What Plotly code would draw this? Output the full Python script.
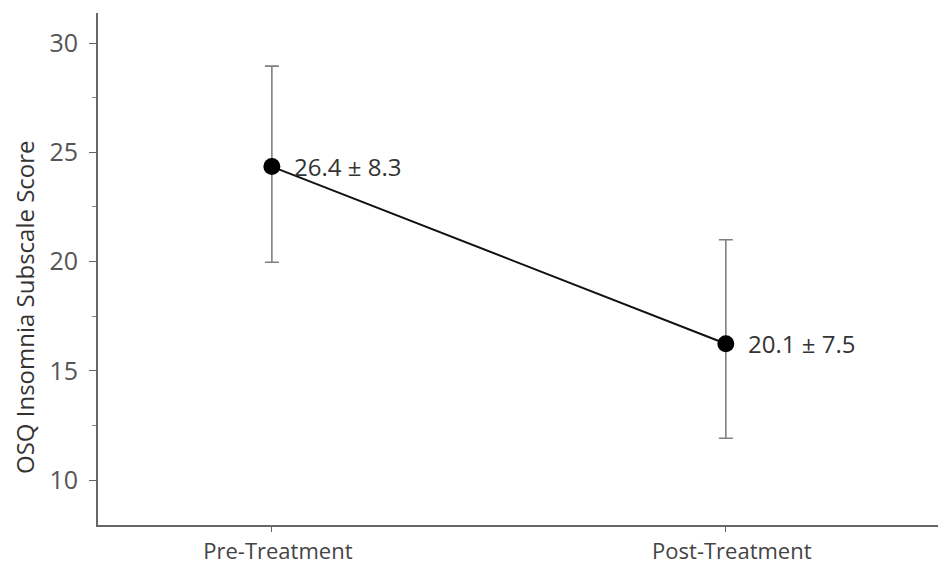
import plotly.graph_objects as go

categories = ["Pre-Treatment", "Post-Treatment"]
means = [24.35, 16.24]
err_plus = [4.6, 4.76]
err_minus = [4.38, 4.33]
labels = ["26.4 \u00b1 8.3", "20.1 \u00b1 7.5"]
y_ticks = [10, 15, 20, 25, 30]

FONT = "Open Sans"
W, H = 938, 558  # page body adds ~8px offset
fig = go.Figure()

fig.add_trace(go.Scatter(
    x=categories, y=means, mode="markers",
    marker=dict(size=1, color="rgba(0,0,0,0)"),
    error_y=dict(type="data", symmetric=False, array=err_plus, arrayminus=err_minus,
                 color="#808080", thickness=1.6, width=7),
    hoverinfo="skip", showlegend=False,
))
fig.add_trace(go.Scatter(
    x=categories, y=means, mode="lines+markers",
    line=dict(color="#111111", width=2),
    marker=dict(size=17, color="#000000"),
    showlegend=False,
))

annotations = [
    dict(x=c, y=m, xref="x", yref="y", text=t, showarrow=False,
         xanchor="left", yanchor="middle", xshift=20,
         font=dict(family=FONT, size=24, color="#333333"))
    for c, m, t in zip(categories, means, labels)
]
annotations.append(dict(
    text="OSQ Insomnia Subscale Score", textangle=-90,
    xref="paper", yref="paper", x=(24 - 98) / 848, y=(525 - 307) / 512,
    xanchor="center", yanchor="middle", showarrow=False,
    font=dict(family=FONT, size=24, color="#333333"),
))

fig.update_layout(
    width=W, height=H,
    margin=dict(l=90, r=0, t=5, b=H - 517, pad=0, autoexpand=False),
    paper_bgcolor="white", plot_bgcolor="white",
    font=dict(family=FONT, color="#444444"),
    xaxis=dict(
        type="category", range=[-0.383, 1.485], automargin=False,
        showline=True, linecolor="#666666", linewidth=2,
        ticks="outside", ticklen=5, tickcolor="#666666", tickwidth=1,
        ticklabelstandoff=1, ticklabelshift=6,
        tickfont=dict(family=FONT, size=22, color="#444444"),
        showgrid=False, zeroline=False,
    ),
    yaxis=dict(
        range=[7.94, 31.38], automargin=False,
        tickvals=y_ticks,
        showline=True, linecolor="#666666", linewidth=2,
        ticks="outside", ticklen=7, tickcolor="#666666", tickwidth=1,
        ticklabelstandoff=6,
        tickfont=dict(family=FONT, size=25, color="#555555"),
        minor=dict(dtick=2.5, tick0=0, ticks="outside", ticklen=4, tickcolor="#888888"),
        showgrid=False, zeroline=False,
    ),
    annotations=annotations,
)

fig.write_html("out.html")
